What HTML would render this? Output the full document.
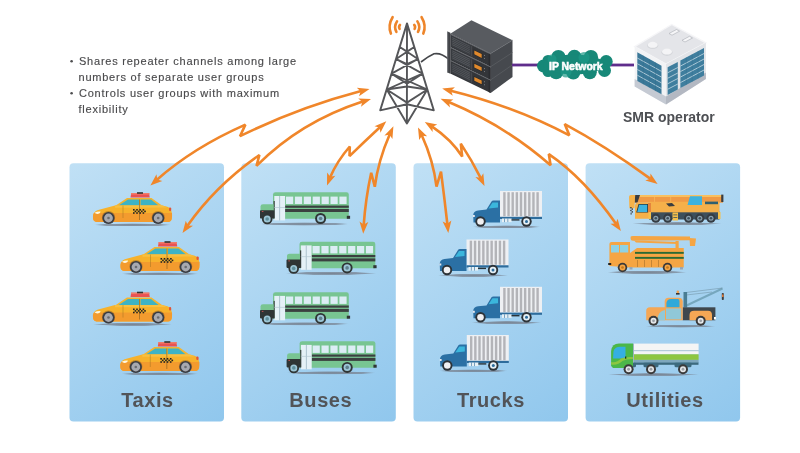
<!DOCTYPE html>
<html><head><meta charset="utf-8"><style>
html,body{margin:0;padding:0;background:#fff;width:800px;height:453px;overflow:hidden}
svg{display:block;will-change:transform}
.t,.lbl,.smr,.ipn{opacity:0.995}
.t{font-family:"Liberation Sans",sans-serif;font-size:11px;fill:#4a4a4c;letter-spacing:0.77px;stroke:#4a4a4c;stroke-width:0.15px}
.lbl{font-family:"Liberation Sans",sans-serif;font-size:20px;font-weight:bold;fill:#525458;letter-spacing:0.6px}
.ipn{font-family:"Liberation Sans",sans-serif;font-size:11.6px;font-weight:bold;fill:#fff;stroke:#fff;stroke-width:0.6px}
.smr{font-family:"Liberation Sans",sans-serif;font-size:14px;font-weight:bold;fill:#4d4f53}
</style></head><body>
<svg width="800" height="453" viewBox="0 0 800 453">
<defs>
<radialGradient id="sh"><stop offset="0" stop-color="#76808e" stop-opacity="0.95"/><stop offset="0.75" stop-color="#7a8594" stop-opacity="0.75"/><stop offset="1" stop-color="#7a8594" stop-opacity="0"/></radialGradient>
<linearGradient id="pg" x1="0" y1="0" x2="0.528" y2="1.208">
<stop offset="0" stop-color="#c0e0f5"/><stop offset="1" stop-color="#90c7ed"/>
</linearGradient>

<g id="taxi">
<ellipse cx="44.50" cy="36.90" rx="39.50" ry="1.60" fill="url(#sh)"/>
<path d="M42.5 9.6 L43.2 5.2 L61 5.2 L61.8 9.6Z" fill="#ea5252"/>
<rect x="43" y="5" width="18.5" height="1.6" fill="#f07a6a"/>
<rect x="49" y="4.2" width="6" height="1.6" fill="#333"/>
<path d="M27 18 L39 10 L63.5 10 L74 17.6 Z" fill="#f6b42e"/>
<path d="M30.5 17.6 L40 11.4 L51 11.4 L51 17.6Z" fill="#3eb3c4"/>
<path d="M52.5 11.4 L63 11.4 L70.5 17.6 L52.5 17.6Z" fill="#3eb3c4"/>
<path d="M5 30 Q4.5 25.5 7.5 23.2 Q9 22.3 12 21.6 L27 17.6 L74.5 17.4 Q80 18.5 82.8 20.5 Q84.5 25 83.8 30.5 Q83.3 33.8 80 33.9 L8.5 33.9 Q5.2 33.6 5 30Z" fill="#f7b22c"/>
<path d="M5 30 Q4.7 26.5 6 25 L84 25 Q84.2 28 83.8 30.5 Q83.3 33.8 80 33.9 L8.5 33.9 Q5.2 33.6 5 30Z" fill="#f39b2e"/>
<path d="M27 17.6 L74.5 17.4 L79 19.5 L27 19.8Z" fill="#f8c040"/>
<line x1="51.5" y1="11.4" x2="51.5" y2="32" stroke="#6b5020" stroke-width="0.5"/>
<line x1="35" y1="17.6" x2="35" y2="30" stroke="#8a6a20" stroke-width="0.4"/>
<path d="M6.5 24.8 Q9 23.2 12.5 23.4 Q12.5 25 10.5 25.8 Q8 26.3 6.5 24.8Z" fill="#fff8e0"/>
<rect x="81" y="19.5" width="2.2" height="3.5" rx="1" fill="#e0553a"/>
<g fill="#222">
<rect x="45" y="21" width="1.6" height="1.6"/><rect x="48.2" y="21" width="1.6" height="1.6"/><rect x="51.4" y="21" width="1.6" height="1.6"/><rect x="54.6" y="21" width="1.6" height="1.6"/>
<rect x="46.6" y="22.6" width="1.6" height="1.6"/><rect x="49.8" y="22.6" width="1.6" height="1.6"/><rect x="53" y="22.6" width="1.6" height="1.6"/><rect x="56.2" y="22.6" width="1.6" height="1.6"/>
<rect x="45" y="24.2" width="1.6" height="1.6"/><rect x="48.2" y="24.2" width="1.6" height="1.6"/><rect x="51.4" y="24.2" width="1.6" height="1.6"/><rect x="54.6" y="24.2" width="1.6" height="1.6"/>
</g>
<circle cx="20.5" cy="29.5" r="6.6" fill="#5a3a20" opacity="0.35"/>
<circle cx="70.2" cy="29.5" r="6.6" fill="#5a3a20" opacity="0.35"/>
<circle cx="20.5" cy="30" r="6.1" fill="#3a3d43"/><circle cx="20.5" cy="30" r="4.4" fill="#a7a9b0"/><circle cx="20.5" cy="30" r="1.3" fill="#6a6c72"/>
<circle cx="70.2" cy="30" r="6.1" fill="#3a3d43"/><circle cx="70.2" cy="30" r="4.4" fill="#a7a9b0"/><circle cx="70.2" cy="30" r="1.3" fill="#6a6c72"/>
</g>

<g id="bus" transform="translate(255,188)">
<ellipse cx="49.50" cy="36.00" rx="45.50" ry="1.70" fill="url(#sh)"/>
<path d="M18 30.8 L18 6.5 Q18 4.3 20.5 4.3 L91.5 4.3 Q93.8 4.3 93.8 6.5 L93.8 30.8Z" fill="#78c592"/>
<rect x="31.00" y="8.6" width="7.2" height="7.4" fill="#dcedf5"/><rect x="39.90" y="8.6" width="7.2" height="7.4" fill="#dcedf5"/><rect x="48.80" y="8.6" width="7.2" height="7.4" fill="#dcedf5"/><rect x="57.70" y="8.6" width="7.2" height="7.4" fill="#dcedf5"/><rect x="66.60" y="8.6" width="7.2" height="7.4" fill="#dcedf5"/><rect x="75.50" y="8.6" width="7.2" height="7.4" fill="#dcedf5"/><rect x="84.40" y="8.6" width="7.2" height="7.4" fill="#dcedf5"/>
<rect x="30" y="17.6" width="63.8" height="2.2" fill="#3b4040"/>
<rect x="30" y="21" width="63.8" height="3" fill="#3b4040"/>
<rect x="19.3" y="8" width="10.8" height="24.4" fill="#e5f1f7"/><rect x="18.6" y="13" width="1.1" height="17.5" fill="#2f3535"/>
<rect x="24.3" y="8" width="0.8" height="24.4" fill="#9fb7c4"/>
<rect x="19.3" y="19" width="10.8" height="0.7" fill="#b5c9d3"/>
<path d="M5.5 29.5 L5.5 18.5 Q5.5 16.3 8 16.3 L18.5 16.3 L18.5 30Z" fill="#78c592"/>
<rect x="5" y="22.2" width="14.2" height="8.3" rx="0.8" fill="#2f3535"/><rect x="6.8" y="23" width="1.6" height="1" fill="#c05050"/>
<rect x="91.8" y="27.8" width="3.3" height="3" fill="#2f3535"/>
<circle cx="12.2" cy="31" r="5.3" fill="#2f3535"/><circle cx="12.2" cy="31" r="3.5" fill="#9cc6d6"/><circle cx="12.2" cy="31" r="1.8" fill="#5f8f9c"/>
<circle cx="65.6" cy="30.5" r="5.5" fill="#2f3535"/><circle cx="65.6" cy="30.5" r="3.6" fill="#9cc6d6"/><circle cx="65.6" cy="30.5" r="1.8" fill="#5f7f8c"/>
</g>

<g id="truck" transform="translate(468,186)">
<ellipse cx="38.50" cy="40.90" rx="35.00" ry="1.60" fill="url(#sh)"/>
<rect x="32" y="5" width="42" height="26" fill="#eef0f3"/>
<rect x="35.20" y="6.2" width="2.4" height="24" fill="#b3b4b8"/><rect x="39.35" y="6.2" width="2.4" height="24" fill="#b3b4b8"/><rect x="43.50" y="6.2" width="2.4" height="24" fill="#b3b4b8"/><rect x="47.65" y="6.2" width="2.4" height="24" fill="#b3b4b8"/><rect x="51.80" y="6.2" width="2.4" height="24" fill="#b3b4b8"/><rect x="55.95" y="6.2" width="2.4" height="24" fill="#b3b4b8"/><rect x="60.10" y="6.2" width="2.4" height="24" fill="#b3b4b8"/><rect x="64.25" y="6.2" width="2.4" height="24" fill="#b3b4b8"/><rect x="68.40" y="6.2" width="2.4" height="24" fill="#b3b4b8"/>
<rect x="32" y="30.8" width="42" height="2.2" fill="#2d6c9c"/>
<path d="M5.5 36.5 L5.2 29 Q5.5 25 10 24.5 L18.5 23.6 L23.5 15.5 Q24 14.6 25.5 14.6 L32 14.6 L32 36.5Z" fill="#2b70a4"/>
<path d="M20.5 22.5 L24.5 16.5 L30 16.5 L30 21.5Z" fill="#3bb6dc"/>
<rect x="34" y="32.5" width="9.6" height="3.6" fill="#e6f0f5"/>
<rect x="36.4" y="32.5" width="0.6" height="3.6" fill="#2d6c9c"/><rect x="39.6" y="32.5" width="0.6" height="3.6" fill="#2d6c9c"/>
<rect x="43.5" y="33.2" width="8" height="1.4" fill="#2a3338"/>
<rect x="5" y="29" width="1.8" height="2" fill="#e8e8ee"/>
<circle cx="12.5" cy="35.5" r="5.2" fill="#2d3338"/><circle cx="12.5" cy="35.5" r="3.3" fill="#f0f0f2"/>
<circle cx="58.5" cy="35.5" r="5.2" fill="#2d3338"/><circle cx="58.5" cy="35.5" r="3.3" fill="#e6f0f5"/><circle cx="58.5" cy="35.5" r="1.5" fill="#2d6c9c"/>
</g>
</defs>
<rect x="69.5" y="163.2" width="154.5" height="258.4" rx="4" fill="url(#pg)"/>
<rect x="241.3" y="163.2" width="154.5" height="258.4" rx="4" fill="url(#pg)"/>
<rect x="413.5" y="163.2" width="154.5" height="258.4" rx="4" fill="url(#pg)"/>
<rect x="585.6" y="163.2" width="154.5" height="258.4" rx="4" fill="url(#pg)"/>

<g transform="translate(88,188)"><use href="#taxi" x="0" y="0"/><use href="#taxi" x="27.5" y="49"/><use href="#taxi" x="0" y="99.5"/><use href="#taxi" x="27.3" y="149"/></g>
<use href="#bus" x="0" y="0"/><use href="#bus" x="26.5" y="49.4"/><use href="#bus" x="0" y="99.9"/><use href="#bus" x="26.6" y="148.9"/>
<use href="#truck" x="0" y="0"/><use href="#truck" x="-33.5" y="48.5"/><use href="#truck" x="0" y="95.8"/><use href="#truck" x="-33.2" y="144"/>
<g transform="translate(625,188)"><ellipse cx="52.00" cy="35.70" rx="45.00" ry="1.60" fill="url(#sh)"/><rect x="24" y="23.5" width="70.5" height="8" fill="#3d4f5c"/><rect x="9" y="7" width="89" height="7.7" fill="#f09a45"/><rect x="12" y="7" width="85" height="2" fill="#f8c060"/><g fill="#f8c060"><rect x="29" y="9" width="0.6" height="5"/><rect x="45.5" y="9" width="0.6" height="5"/></g><path d="M10.3 7 L15 7 L12.5 14.5 L9.5 14.5Z" fill="#3a3d40"/><rect x="96.2" y="6.6" width="2.2" height="7.4" fill="#3a3d40"/><path d="M4 9 Q4 7 6 7 L10 7 L9.5 20.3 L4.4 20.3Z" fill="#f5b24a"/><g fill="#3a3d40"><rect x="5.2" y="19" width="1.4" height="1.4"/><rect x="6.6" y="20.4" width="1.4" height="1.4"/><rect x="5.2" y="21.8" width="1.4" height="1.4"/><rect x="6.6" y="23.2" width="1.4" height="1.4"/><rect x="5.6" y="24.6" width="1" height="2"/></g><rect x="24.5" y="13.8" width="70" height="10.5" fill="#f5b04a"/><path d="M10 30.8 L10 18 Q10 14.4 13.5 14.4 L25 14.4 L25 30.8Z" fill="#f5b04a"/><path d="M11.2 24.6 L13.5 16 L23 16 L23 24.6Z" fill="#2a3a40"/><path d="M12.2 24 L14.2 16.8 L22.2 16.8 L22.2 24Z" fill="#3db2de"/><rect x="23" y="15" width="3" height="10" fill="#e07a3a" opacity="0.8"/><path d="M62.5 17 L65 8.2 L77 8.2 L77 17Z" fill="#3db2de"/><rect x="80" y="13.6" width="13" height="2.6" fill="#2f5f70"/><path d="M41 15.5 L47 15 L50 18 L44 18.5Z" fill="#3a3d40"/><rect x="47.5" y="24.5" width="5.5" height="8" fill="#f5c04a"/><g fill="#3d4f5c"><rect x="48.3" y="26.5" width="4" height="0.8"/><rect x="48.3" y="29" width="4" height="0.8"/></g><rect x="93" y="24" width="2.5" height="7" fill="#f5c04a"/><rect x="23.5" y="24" width="2.5" height="7" fill="#f5c04a"/><circle cx="30.8" cy="30.2" r="4.6" fill="#353c43"/><circle cx="30.8" cy="30.2" r="2.53" fill="#8aa0ae"/><circle cx="30.8" cy="30.2" r="1.29" fill="#3d4f5c"/><circle cx="42.7" cy="30.2" r="4.6" fill="#353c43"/><circle cx="42.7" cy="30.2" r="2.53" fill="#8aa0ae"/><circle cx="42.7" cy="30.2" r="1.29" fill="#3d4f5c"/><circle cx="63.6" cy="30.2" r="4.6" fill="#353c43"/><circle cx="63.6" cy="30.2" r="2.53" fill="#8aa0ae"/><circle cx="63.6" cy="30.2" r="1.29" fill="#3d4f5c"/><circle cx="74.8" cy="30.2" r="4.6" fill="#353c43"/><circle cx="74.8" cy="30.2" r="2.53" fill="#8aa0ae"/><circle cx="74.8" cy="30.2" r="1.29" fill="#3d4f5c"/><circle cx="86" cy="30.2" r="4.6" fill="#353c43"/><circle cx="86" cy="30.2" r="2.53" fill="#8aa0ae"/><circle cx="86" cy="30.2" r="1.29" fill="#3d4f5c"/></g><g transform="translate(600,230)"><ellipse cx="47.00" cy="42.30" rx="40.00" ry="1.80" fill="url(#sh)"/><path d="M30.6 6.8 Q31 6 33 6 L90 6.4 L90 10.2 L33 10.8 Q30.6 10.5 30.6 9Z" fill="#f5a543"/><path d="M34 10.5 L78 12 L78 14 L36 12.5Z" fill="#f5a543"/><path d="M89.5 8 L96 8.5 L95 16 L90 16Z" fill="#f5a543"/><rect x="75.5" y="11" width="3.2" height="8" fill="#f5a543"/><path d="M30 37.5 L30 23 L37 18 L83.75 18 L83.75 37.5Z" fill="#f5a543"/><rect x="35" y="21.9" width="48.75" height="1.9" fill="#2b6a34"/><rect x="35" y="26.9" width="48.75" height="1.9" fill="#2b6a34"/><g fill="#6a4a1a" opacity="0.7"><rect x="37" y="30" width="0.5" height="7"/><rect x="44" y="30" width="0.5" height="7"/><rect x="51" y="30" width="0.5" height="7"/><rect x="58" y="30" width="0.5" height="7"/></g><path d="M9.4 36 L9.4 14 Q9.4 11.9 11.5 11.9 L30 11.9 L30 37.5Z" fill="#f5a543"/><rect x="11" y="15" width="8" height="7.5" fill="#8fd2e4"/><rect x="20" y="15" width="8.2" height="7.5" fill="#8fd2e4"/><rect x="8.2" y="33" width="3" height="2" fill="#222"/><rect x="29.5" y="37" width="3" height="2.5" fill="#9aa6b2"/><rect x="80" y="37" width="3" height="2.5" fill="#9aa6b2"/><circle cx="22.5" cy="37.5" r="4.75" fill="#3a3a3a"/><circle cx="22.5" cy="37.5" r="2.94" fill="#f5a543"/><circle cx="22.5" cy="37.5" r="1.33" fill="#c07a20"/><circle cx="67.5" cy="37.5" r="4.75" fill="#3a3a3a"/><circle cx="67.5" cy="37.5" r="2.94" fill="#f5a543"/><circle cx="67.5" cy="37.5" r="1.33" fill="#c07a20"/></g><g transform="translate(640,282)"><ellipse cx="40.50" cy="44.20" rx="35.50" ry="1.50" fill="url(#sh)"/><path d="M45.5 24 L82.5 6.5" stroke="#76a7be" stroke-width="2"/><path d="M46 10.5 L82.5 6 M46 13 L72 10" stroke="#6a8a9a" stroke-width="0.5"/><rect x="81.8" y="11" width="2" height="7" rx="0.8" fill="#3a3d40"/><rect x="82" y="12.5" width="1.6" height="2.5" fill="#e07a3a"/><rect x="43.5" y="10" width="3.6" height="15.5" fill="#4a7d94"/><rect x="36.5" y="8.5" width="2.6" height="2.6" rx="1.2" fill="#f0a050"/><rect x="36" y="11" width="3.6" height="1.6" fill="#333"/><rect x="42.7" y="25.3" width="32.7" height="13" fill="#3f474d"/><path d="M49.5 38.2 L49.5 33 Q49.5 28.7 54 28.7 L68 28.7 Q72 28.7 72 33 L72 38.2Z" fill="#f5a755"/><path d="M24.7 38.2 L24.7 19.5 Q24.7 15.7 28.5 15.7 L38.7 15.7 Q42.7 15.7 42.7 19.5 L42.7 38.2Z" fill="#f5a755"/><path d="M26.4 25.3 L26.4 21 Q27 16.9 31 16.9 L37.8 16.9 Q39.5 16.9 39.5 19 L39.5 25.3Z" fill="#2fa9d9"/><rect x="26" y="26.4" width="15.2" height="11" fill="#90c8d8"/><path d="M6.2 38.2 L6.2 29 Q6.2 25.3 10 25.3 L25 25.3 L25 38.2Z" fill="#f5a755"/><path d="M17 38.2 Q18 29 25 28 L25 38.2Z" fill="#90c8d8"/><rect x="74" y="35" width="2" height="2.5" fill="#fff"/><circle cx="13.5" cy="38.8" r="5" fill="#3a3a3a"/><circle cx="13.5" cy="38.8" r="3.00" fill="#e6e8ea"/><circle cx="13.5" cy="38.8" r="1.40" fill="#9aa0a6"/><circle cx="60.7" cy="38.8" r="5" fill="#3a3a3a"/><circle cx="60.7" cy="38.8" r="3.00" fill="#e6e8ea"/><circle cx="60.7" cy="38.8" r="1.40" fill="#9aa0a6"/></g><g transform="translate(603,338)"><ellipse cx="50.50" cy="36.60" rx="45.50" ry="1.50" fill="url(#sh)"/><rect x="25" y="24.2" width="70.5" height="2.6" fill="#3c6a7e"/><rect x="18.5" y="24.2" width="14.5" height="5" rx="1.5" fill="#3c6a7e"/><rect x="40.5" y="24.2" width="15" height="5" rx="1.5" fill="#3c6a7e"/><rect x="71.5" y="24.2" width="17" height="5" rx="1.5" fill="#3c6a7e"/><rect x="30.6" y="5.6" width="65" height="6.9" fill="#f4f5f5"/><rect x="30.6" y="12.5" width="65" height="0.7" fill="#9fb3bf"/><rect x="30.6" y="13.2" width="65" height="3.1" fill="#f4f5f5"/><rect x="30.6" y="16.3" width="65" height="5.6" fill="#8dc640"/><rect x="30.6" y="21.9" width="65" height="2.5" fill="#7ea7bd"/><rect x="30" y="5.6" width="1" height="19" fill="#9fb3bf"/><path d="M8.1 28 L8.1 13 Q9 5.6 16 5.6 L30 5.6 L30 30 L10 30Z" fill="#4bb748"/><path d="M10 20.6 L10.5 13 Q12 8.7 17 8.7 L22.5 8.7 L22.5 20.6Z" fill="#35afe2"/><path d="M8.1 24 Q14 25 18 20.5 Q22 18.5 30 19 L30 21 Q23 21 19.5 23 Q15 27.5 8.1 26.5Z" fill="#8dc640"/><rect x="22" y="18.5" width="1.3" height="2.2" fill="#1d3a20"/><circle cx="25.6" cy="31.25" r="5" fill="#3a3a3a"/><circle cx="25.6" cy="31.25" r="3.00" fill="#e6e8ea"/><circle cx="25.6" cy="31.25" r="1.40" fill="#9aa0a6"/><circle cx="48" cy="31.25" r="5" fill="#3a3a3a"/><circle cx="48" cy="31.25" r="3.00" fill="#e6e8ea"/><circle cx="48" cy="31.25" r="1.40" fill="#9aa0a6"/><circle cx="80" cy="31.25" r="5" fill="#3a3a3a"/><circle cx="80" cy="31.25" r="3.00" fill="#e6e8ea"/><circle cx="80" cy="31.25" r="1.40" fill="#9aa0a6"/></g>
<text x="147.5" y="407" text-anchor="middle" class="lbl">Taxis</text><text x="320.8" y="407" text-anchor="middle" class="lbl">Buses</text><text x="491" y="407" text-anchor="middle" class="lbl">Trucks</text><text x="665" y="407" text-anchor="middle" class="lbl">Utilities</text>
<circle cx="71.6" cy="61.3" r="1.3" fill="#4d4d4f"/>
<circle cx="71.6" cy="93.3" r="1.3" fill="#4d4d4f"/>
<text x="79" y="65" class="t">Shares repeater channels among large</text>
<text x="78.5" y="81" class="t">numbers of separate user groups</text>
<text x="79" y="97.2" class="t">Controls user groups with maximum</text>
<text x="78.5" y="113" class="t">flexibility</text>
<text x="623" y="122" class="smr">SMR operator</text>
<g fill="none" stroke="#ee852a" stroke-width="2.6" stroke-linecap="round">
<path d="M392.6 17.2 Q387.6 25.4 390.9 33.6"/><path d="M397 21.4 Q393.6 26.6 396.4 31.8"/><path d="M400 24.9 Q398.4 26.9 399.6 28.9"/>
<path d="M421.6 17.2 Q426.6 25.4 423.3 33.6"/><path d="M417.4 21.4 Q420.8 26.6 418 31.8"/><path d="M414.2 24.9 Q415.8 26.9 414.6 28.9"/>
</g><path d="M407 23.4L380.2 110.4 M407 23.4L433.8 110.4 M407 23.4L406.9 123.5 M399.77 47L407 51.5 M414.26 47L407 51.5 M399.77 47L417.95 59 M414.26 47L396.09 59 M396.09 59L407 64 M417.95 59L407 64 M396.09 59L422.47 73.7 M417.95 59L391.58 73.7 M391.58 73.7L407 83.7 M422.47 73.7L407 83.7 M391.58 73.7L427.33 89.5 M422.47 73.7L386.74 89.5 M386.74 89.5L407 102.6 M427.33 89.5L407 102.6 M386.74 89.5L406.9 123.5 M427.33 89.5L406.9 123.5 M386.74 89.5L407 86.5 M407 86.5L427.33 89.5 M380.2 110.4L407 104.3 M407 104.3L433.8 110.4" fill="none" stroke="#555659" stroke-width="1.9" stroke-linejoin="round" stroke-linecap="round"/><path d="M421 62 Q428 56.5 434 53.8 Q441 52.5 448.5 59" fill="none" stroke="#45474b" stroke-width="1.6"/><g>
<path d="M450.3 33.8 L471.4 20.2 L512.5 40.2 L490.7 53.5Z" fill="#585b60"/>
<g transform="matrix(1,0.4876,0,1,0,-219.57)"><rect x="450.3" y="33.8" width="40.4" height="13.2" fill="#333539"/><rect x="450.3" y="33.8" width="40.4" height="0.9" fill="#6a6d72"/><rect x="451.3" y="35.599999999999994" width="19.5" height="10.2" fill="#3c3f44"/><rect x="452.3" y="36.40" width="17.5" height="0.6" fill="#5a5d62"/><rect x="452.3" y="38.15" width="17.5" height="0.6" fill="#5a5d62"/><rect x="452.3" y="39.90" width="17.5" height="0.6" fill="#5a5d62"/><rect x="452.3" y="41.65" width="17.5" height="0.6" fill="#5a5d62"/><rect x="452.3" y="43.40" width="17.5" height="0.6" fill="#5a5d62"/><rect x="471.5" y="35.599999999999994" width="0.6" height="10.2" fill="#5a5d62"/><rect x="473.6" y="38.199999999999996" width="8.8" height="5" fill="#26282b"/><rect x="474.3" y="38.8" width="7.4" height="3.8" fill="#e0892c"/><rect x="484" y="38.3" width="0.9" height="0.9" fill="#8a8d92"/><rect x="484" y="41.3" width="0.9" height="0.9" fill="#8a8d92"/><rect x="488.6" y="34.8" width="2.1" height="12.2" fill="#2a2c30"/><rect x="450.3" y="47" width="40.4" height="13.2" fill="#333539"/><rect x="450.3" y="47" width="40.4" height="0.9" fill="#6a6d72"/><rect x="451.3" y="48.8" width="19.5" height="10.2" fill="#3c3f44"/><rect x="452.3" y="49.60" width="17.5" height="0.6" fill="#5a5d62"/><rect x="452.3" y="51.35" width="17.5" height="0.6" fill="#5a5d62"/><rect x="452.3" y="53.10" width="17.5" height="0.6" fill="#5a5d62"/><rect x="452.3" y="54.85" width="17.5" height="0.6" fill="#5a5d62"/><rect x="452.3" y="56.60" width="17.5" height="0.6" fill="#5a5d62"/><rect x="471.5" y="48.8" width="0.6" height="10.2" fill="#5a5d62"/><rect x="473.6" y="51.4" width="8.8" height="5" fill="#26282b"/><rect x="474.3" y="52" width="7.4" height="3.8" fill="#e0892c"/><rect x="484" y="51.5" width="0.9" height="0.9" fill="#8a8d92"/><rect x="484" y="54.5" width="0.9" height="0.9" fill="#8a8d92"/><rect x="488.6" y="48" width="2.1" height="12.2" fill="#2a2c30"/><rect x="450.3" y="60.2" width="40.4" height="13.2" fill="#333539"/><rect x="450.3" y="60.2" width="40.4" height="0.9" fill="#6a6d72"/><rect x="451.3" y="62.0" width="19.5" height="10.2" fill="#3c3f44"/><rect x="452.3" y="62.80" width="17.5" height="0.6" fill="#5a5d62"/><rect x="452.3" y="64.55" width="17.5" height="0.6" fill="#5a5d62"/><rect x="452.3" y="66.30" width="17.5" height="0.6" fill="#5a5d62"/><rect x="452.3" y="68.05" width="17.5" height="0.6" fill="#5a5d62"/><rect x="452.3" y="69.80" width="17.5" height="0.6" fill="#5a5d62"/><rect x="471.5" y="62.0" width="0.6" height="10.2" fill="#5a5d62"/><rect x="473.6" y="64.60000000000001" width="8.8" height="5" fill="#26282b"/><rect x="474.3" y="65.2" width="7.4" height="3.8" fill="#e0892c"/><rect x="484" y="64.7" width="0.9" height="0.9" fill="#8a8d92"/><rect x="484" y="67.7" width="0.9" height="0.9" fill="#8a8d92"/><rect x="488.6" y="61.2" width="2.1" height="12.2" fill="#2a2c30"/>
<rect x="447.4" y="32.8" width="3" height="41" fill="#404246"/><rect x="447.4" y="32.8" width="0.8" height="41" fill="#6a6d72"/>
</g>
<path d="M490.7 53.5 L512.5 40.2 L512.5 77 L490.7 93.1Z" fill="#46494e"/>
<path d="M490.7 66.7 L512.5 52.5 M490.7 79.9 L512.5 64.8" stroke="#5e6166" stroke-width="0.7"/>
<path d="M490.7 53.5 L512.5 40.2" stroke="#6a6d72" stroke-width="0.6"/>
</g><rect x="512" y="63.6" width="122" height="2.8" fill="#5f2d8c"/><g fill="#178878"><circle cx="558.4" cy="57.2" r="7.2"/><circle cx="574.4" cy="57" r="7.2"/><circle cx="590.9" cy="57.2" r="7.2"/><circle cx="606.2" cy="61.5" r="6.5"/><circle cx="604.5" cy="70.5" r="6.5"/><circle cx="556.2" cy="72.2" r="7"/><circle cx="573.3" cy="72.5" r="7"/><circle cx="589.8" cy="72.3" r="7"/><circle cx="543.5" cy="66" r="6.5"/><circle cx="548" cy="60.5" r="5.5"/><circle cx="548" cy="71.5" r="5.5"/><ellipse cx="574" cy="64.5" rx="31" ry="10"/></g><g fill="#1e9a88" opacity="0.7"><circle cx="566" cy="72" r="5.5"/><circle cx="584" cy="57.5" r="5.5"/><circle cx="552" cy="59" r="4.5"/></g><text x="0" y="0" transform="translate(549,70) scale(0.9,1)" class="ipn">IP Network</text><g>
<path d="M634.65 46.6 L671.7 24.5 L705.9 42.8 L666 64.1Z" fill="#e4e5e9"/>
<path d="M634.65 46.6 L671.7 24.5 L705.9 42.8 L666 64.1Z" fill="none" stroke="#f6f6f8" stroke-width="1.4"/>
<path d="M634.65 46.6 L666 64.1 L666 104.6 L634.65 86.5Z" fill="#f2f3f5"/>
<path d="M666 64.1 L705.9 42.8 L705.9 79 L666 104.6Z" fill="#e2e4e8"/>
<path d="M634.65 79 L666 96.6 L666 104.6 L634.65 86.5Z" fill="#c5cad3"/>
<path d="M666 96.6 L705.9 72.6 L705.9 79 L666 104.6Z" fill="#b3b8c2"/>
<path d="M637.3 52.2 L661.5 65.7 L661.5 94.3 L637.3 81Z" fill="#3a7898"/>
<path d="M667.6 67.3 L677.8 62 L677.8 89.5 L667.6 95Z" fill="#3f7e9e"/>
<path d="M680.4 60.6 L704 48 L704 75.5 L680.4 88Z" fill="#3f7e9e"/>
<g stroke="#d9e6ee" stroke-width="0.7">
<path d="M637.3 58 L661.5 71.4 M637.3 63.7 L661.5 77.1 M637.3 69.5 L661.5 82.9 M637.3 75.2 L661.5 88.6"/>
<path d="M667.6 72.8 L677.8 67.5 M667.6 78.3 L677.8 73 M667.6 83.8 L677.8 78.5 M667.6 89.3 L677.8 84"/>
<path d="M680.4 66.1 L704 53.5 M680.4 71.6 L704 59 M680.4 77.1 L704 64.5 M680.4 82.6 L704 70"/>
</g>
<g stroke="#2f6a88" stroke-width="0.5" opacity="0.7">
<path d="M643.3 55.5 L643.3 84.3 M649.4 58.9 L649.4 87.7 M655.5 62.3 L655.5 91.1"/>
<path d="M686.3 57.5 L686.3 84.9 M692.2 54.3 L692.2 81.8 M698.1 51.2 L698.1 78.6"/>
</g>
<ellipse cx="652.7" cy="45.5" rx="5.6" ry="3.6" fill="#d5d7db"/><ellipse cx="652.7" cy="44.8" rx="5" ry="3" fill="#f4f4f6"/>
<ellipse cx="667" cy="52.3" rx="5.6" ry="3.6" fill="#d5d7db"/><ellipse cx="667" cy="51.6" rx="5" ry="3" fill="#f4f4f6"/>
<path d="M669 33.5 L676.5 29.5 L679.5 31.2 L672 35.2Z" fill="#f6f6f8" stroke="#a9acb3" stroke-width="0.6"/>
<path d="M682 40.3 L689.5 36.3 L692.5 38 L685 42Z" fill="#f6f6f8" stroke="#a9acb3" stroke-width="0.6"/>
</g>
<path d="M361.05 91.06 Q298.38 107.53 240 136.2 L245.4 124.6 Q193.59 147.43 156.92 179.68" fill="none" stroke="#f0862a" stroke-width="2.6" stroke-linejoin="miter" stroke-miterlimit="2.2"/><path d="M369.5 88.9 L359.03 96.23 L360.61 91.26 L356.77 87.73Z M150.4 185.6 L156.47 174.35 L157.29 179.5 L162.3 180.94Z" fill="#f0862a"/>
<path d="M362.66 101.48 Q300.21 121.81 256.5 165.9 L259.4 155 Q215.7 185.66 187.43 225.76" fill="none" stroke="#f0862a" stroke-width="2.6" stroke-linejoin="miter" stroke-miterlimit="2.2"/><path d="M371 98.9 L361 106.86 L362.27 101.8 L358.22 98.51Z M182.5 233 L185.78 220.65 L187.78 225.47 L192.99 225.7Z" fill="#f0862a"/>
<path d="M379.9 127.21 Q364.7 141.31 349.5 156.1 L349.8 146.5 Q337.26 160.81 330.15 177.26" fill="none" stroke="#f0862a" stroke-width="2.6" stroke-linejoin="miter" stroke-miterlimit="2.2"/><path d="M386.3 121.3 L380.46 132.67 L379.54 127.54 L374.5 126.2Z M327 185.4 L327.1 172.62 L330.23 176.79 L335.34 175.71Z" fill="#f0862a"/>
<path d="M389.76 134.21 Q378.11 160.84 374.8 186.8 L371.2 172.7 Q365.54 198.92 363.71 225.07" fill="none" stroke="#f0862a" stroke-width="2.6" stroke-linejoin="miter" stroke-miterlimit="2.2"/><path d="M393.4 126.3 L392.42 139.04 L389.58 134.67 L384.42 135.39Z M363.2 233.8 L359.51 221.56 L363.74 224.62 L368.3 222.08Z" fill="#f0862a"/>
<path d="M421.79 135.29 Q433.38 160.79 436.5 186.6 L441 171.7 Q444.43 198.04 447.35 224.23" fill="none" stroke="#f0862a" stroke-width="2.6" stroke-linejoin="miter" stroke-miterlimit="2.2"/><path d="M418 127.4 L427.14 136.33 L421.96 135.7 L419.2 140.12Z M448.3 232.9 L442.62 221.45 L447.3 223.76 L451.36 220.49Z" fill="#f0862a"/>
<path d="M432.18 126.55 Q451.62 139.68 462.2 156.6 L460.8 143.6 Q472.01 160.53 480.74 178.13" fill="none" stroke="#f0862a" stroke-width="2.6" stroke-linejoin="miter" stroke-miterlimit="2.2"/><path d="M424.8 121.9 L437.3 124.57 L432.58 126.8 L432.61 132.02Z M484.5 186 L475.37 177.05 L480.55 177.69 L483.32 173.27Z" fill="#f0862a"/>
<path d="M450.73 90.64 Q514.9 106.5 569.4 135.3 L564.7 124.1 Q604.55 145.37 650.54 178.9" fill="none" stroke="#f0862a" stroke-width="2.6" stroke-linejoin="miter" stroke-miterlimit="2.2"/><path d="M442.2 88.6 L454.91 87.25 L451.12 90.84 L452.77 95.78Z M657.6 184.1 L645.31 180.59 L650.16 178.68 L650.49 173.48Z" fill="#f0862a"/>
<path d="M448.69 102.06 Q505.49 125.7 550.6 165.3 L548.8 154.1 Q584.16 178.14 615.98 223.79" fill="none" stroke="#f0862a" stroke-width="2.6" stroke-linejoin="miter" stroke-miterlimit="2.2"/><path d="M440.6 98.8 L453.37 99.39 L449.08 102.36 L449.96 107.5Z M620.9 231 L610.42 223.68 L615.63 223.46 L617.64 218.64Z" fill="#f0862a"/>
</svg>
</body></html>
